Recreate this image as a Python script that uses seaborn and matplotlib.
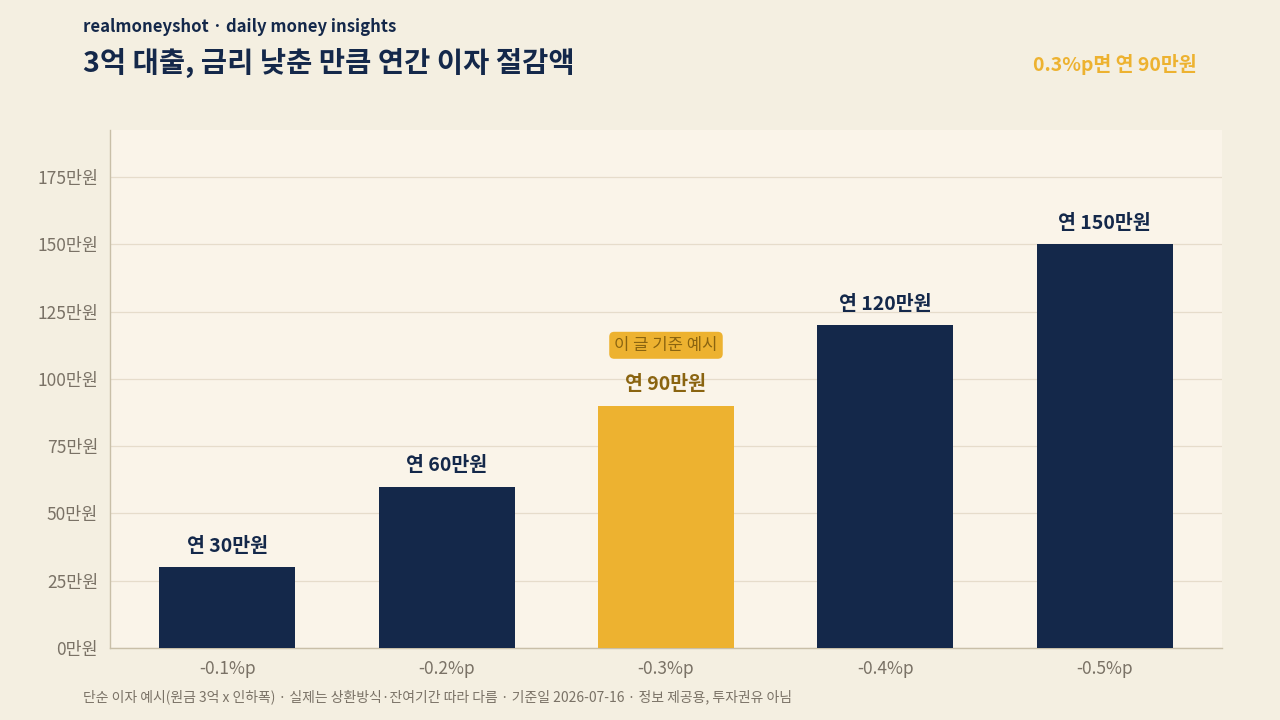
import matplotlib
matplotlib.use("Agg")
import matplotlib.pyplot as plt
import seaborn as sns
import pandas as pd

# data
cuts = ["-0.1%p", "-0.2%p", "-0.3%p", "-0.4%p", "-0.5%p"]
savings = [30, 60, 90, 120, 150]  # 만원 / 연
highlight = "-0.3%p"
yticks = [0, 25, 50, 75, 100, 125, 150, 175]

NAVY = "#14284a"
GOLD = "#edb230"
DARK_GOLD = "#8a6410"
FIG_BG = "#f4efe1"
AX_BG = "#faf4e9"

sns.set_theme(style="white")
plt.rcParams["font.family"] = ["Noto Sans CJK KR", "DejaVu Sans"]

df = pd.DataFrame({"cut": cuts, "saving": savings})
colors = [GOLD if c == highlight else NAVY for c in cuts]

fig = plt.figure(figsize=(12.8, 7.2), dpi=100, facecolor=FIG_BG)
ax = fig.add_axes([0.0859, 0.1, 0.8688, 0.7194])
ax.set_facecolor(AX_BG)

sns.barplot(data=df, x="cut", y="saving", hue="cut", palette=colors,
            legend=False, width=0.62, saturation=1, linewidth=0,
            edgecolor="none", ax=ax, zorder=3)

ax.set_xlim(-0.535, 4.535)
ax.set_ylim(0, 192.5)
ax.set_yticks(yticks)
ax.set_yticklabels([f"{v}만원" for v in yticks])
ax.grid(axis="y", color="#e6dccb", linewidth=0.9, zorder=0)
ax.set_xlabel("")
ax.set_ylabel("")
ax.tick_params(axis="both", colors="#c9bfa8", labelcolor="#7a7266",
               labelsize=12.5, length=5, width=1)
for s in ["top", "right"]:
    ax.spines[s].set_visible(False)
for s in ["left", "bottom"]:
    ax.spines[s].set_color("#c9bfa8")
    ax.spines[s].set_linewidth(1)

# bar labels
for i, (c, v) in enumerate(zip(cuts, savings)):
    col = DARK_GOLD if c == highlight else NAVY
    ax.text(i, v + 4.3, f"연 {v}만원", ha="center", va="bottom",
            fontsize=14, fontweight="bold", color=col, zorder=5)
    if c == highlight:
        ax.text(i, v + 22.5, "이 글 기준 예시", ha="center", va="center",
                fontsize=12, fontweight="medium", color=DARK_GOLD, zorder=5,
                bbox=dict(boxstyle="round,pad=0.3,rounding_size=0.3",
                          facecolor=GOLD, edgecolor="none"))

# header / footer
fig.text(0.065, 0.963, "realmoneyshot · daily money insights", ha="left", va="center",
         fontsize=12, fontweight="bold", color=NAVY)
fig.text(0.065, 0.913, "3억 대출, 금리 낮춘 만큼 연간 이자 절감액", ha="left", va="center",
         fontsize=20.5, fontweight="bold", color=NAVY)
fig.text(0.935, 0.911, "0.3%p면 연 90만원", ha="right", va="center",
         fontsize=14, fontweight="bold", color=GOLD)
fig.text(0.065, 0.032,
         "단순 이자 예시(원금 3억 x 인하폭) · 실제는 상환방식·잔여기간 따라 다름 · 기준일 2026-07-16 · 정보 제공용, 투자권유 아님",
         ha="left", va="center", fontsize=10, color="#7a7266")

fig.savefig("out.png", dpi=100, facecolor=FIG_BG)
